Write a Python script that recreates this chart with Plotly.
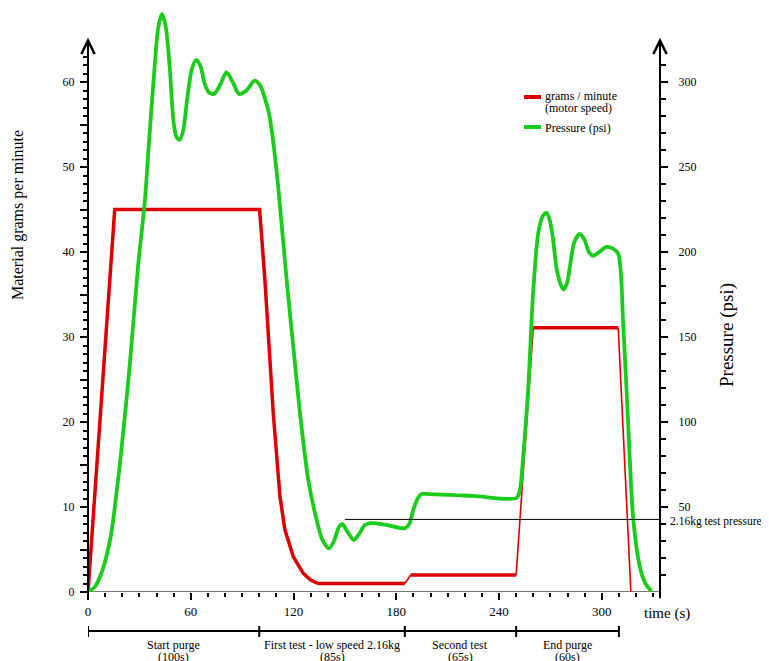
import plotly.graph_objects as go

# ---------------- data ----------------
# Material grams per minute (motor speed)
red_t = [0, 15.6, 100.2, 103.3, 108.2, 112.1, 115, 119.9, 125.7, 130, 134.5, 185, 188.4, 250, 260, 309.6, 317]
red_g = [0, 45, 45, 36.7, 21, 11.2, 7.3, 4.15, 2.2, 1.4, 1.0, 1.0, 2.0, 2.0, 31.1, 31.1, 0]
# segments drawn with a thin line (index of segment start)
red_thin_segments = [11, 13, 15]

# Pressure (psi)
green_t = [0, 4, 7.8, 10.5, 13.6, 16.5, 19.5, 24.3, 29.2, 33.1, 36, 38.9, 41, 43.2, 45.3, 47.7,
           49.8, 51.5, 53.5, 55.5, 57.8, 60.5, 63.2, 65.8, 68.1, 70.5, 73.6, 77.5, 80.8, 84.5, 88.2,
           92.5, 97.3, 100.5, 103.1, 105.8, 108, 110.9, 116, 119.9, 123.8, 128.6, 133.5, 136.8,
           140.7, 143.6, 146.6, 148.4, 151.5, 155.2, 158.5, 161.7, 165, 168.5, 175, 185, 187.6,
           189.9, 192.5, 194.8, 199.6, 225, 250.2, 252.2, 254.1, 257, 260, 262.9, 265.5, 267.8,
           269.8, 271.6, 274, 277.5, 279.5, 281.4, 284, 287.2, 290, 292.5, 295, 298.5, 302.8,
           306.5, 309.6, 312.5, 315.4, 318.3, 322.2, 325.5, 329]
green_p = [0, 3, 11, 20, 34.5, 57, 83.5, 132.5, 191.4, 229, 270, 309, 332, 340, 333, 309,
           278, 268, 266, 271, 289, 307, 313, 309, 299, 294, 293, 299, 305.7, 300, 293,
           295, 300.8, 298, 291, 281, 266, 240, 183.5, 144, 105, 66, 42.4, 31,
           25.7, 30, 38.4, 40, 35.5, 30.6, 34.5, 39.4, 40.5, 40.4, 39.3, 37.5, 40,
           48.2, 55, 57.6, 57.6, 56.5, 55.3, 60, 79.6, 118.8, 177.6, 211, 221, 223,
           218, 207, 188, 178, 181, 191.4, 206, 210.6, 207, 200, 197.8, 200, 203,
           202, 199, 158, 99, 44, 15, 5, 0.5]

test_pressure = 42.7
test_pressure_start = 150

x_major = [0, 60, 120, 180, 240, 300]
x_minor = [v for v in range(10, 331, 10) if v % 60 != 0]
yl_major = list(range(0, 61, 5))
yl_text = [str(v) if v % 10 == 0 else "" for v in yl_major]
yl_minor = [v for v in range(1, 64) if v % 5 != 0]
yr_major = [50, 100, 150, 200, 250, 300]
yr_minor = [v for v in range(10, 311, 10) if v % 50 != 0]

phases = ["Start purge", "First test - low speed 2.16kg", "Second test", "End purge"]
phase_dur = ["(100s)", "(85s)", "(65s)", "(60s)"]
phase_edges = [0, 100, 185, 250, 310]

RED = "#dd0000"
GREEN = "#1ccc1c"
FONT = "Liberation Serif"

# ---------------- geometry helpers (page pixels; page has an 8px body margin) ----------------
OFF = 8
W, H = 769 - OFF, 661 - OFF
PLOT_L, PLOT_R, PLOT_T, PLOT_B = 88, 660, 8, 592   # page coords
L = PLOT_L - OFF
R = W - (PLOT_R - OFF)
T = PLOT_T - OFF
B = H - (PLOT_B - OFF)
PW, PH = PLOT_R - PLOT_L, PLOT_B - PLOT_T
XMAX = 334.0
YMAX = PH / 8.5


def px(x):
    return (x - PLOT_L) / PW


def py(y):
    return (PLOT_B - y) / PH


fig = go.Figure()

# red thick / thin
thick_x, thick_y, thin_x, thin_y = [], [], [], []
for i in range(len(red_t) - 1):
    if i in red_thin_segments:
        thin_x += [red_t[i], red_t[i + 1], None]
        thin_y += [red_g[i], red_g[i + 1], None]
        thick_x.append(None)
        thick_y.append(None)
    else:
        if not thick_x or thick_x[-1] is None or thick_x[-1] != red_t[i]:
            thick_x.append(red_t[i])
            thick_y.append(red_g[i])
        thick_x.append(red_t[i + 1])
        thick_y.append(red_g[i + 1])

fig.add_trace(go.Scatter(x=thin_x, y=thin_y, mode="lines", line=dict(color=RED, width=1.6),
                         showlegend=False, hoverinfo="skip"))
fig.add_trace(go.Scatter(x=thick_x, y=thick_y, mode="lines", line=dict(color=RED, width=3.5),
                         showlegend=False, name="grams / minute"))
fig.add_trace(go.Scatter(x=green_t, y=green_p, mode="lines", yaxis="y2",
                         line=dict(color=GREEN, width=3.8, shape="spline", smoothing=0.8),
                         showlegend=False, name="Pressure (psi)"))

tickfont = dict(family=FONT, size=12, color="black")
fig.update_layout(
    width=W, height=H,
    margin=dict(l=L, r=R, t=T, b=B, autoexpand=False),
    paper_bgcolor="white", plot_bgcolor="white",
    xaxis=dict(range=[0, XMAX], showgrid=False, zeroline=False, showline=False,
               tickmode="array", tickvals=x_major, ticks="outside", ticklen=7, tickwidth=2,
               tickcolor="black", tickfont=dict(family=FONT, size=13, color="black"),
               minor=dict(tickmode="array", tickvals=x_minor, ticks="outside", ticklen=4,
                          tickwidth=2, tickcolor="black")),
    yaxis=dict(range=[0, YMAX], showgrid=False, zeroline=False, showline=False,
               tickmode="array", tickvals=yl_major, ticktext=yl_text, ticks="outside",
               ticklen=7, tickwidth=2, tickcolor="black", tickfont=tickfont, ticklabelstandoff=3,
               minor=dict(tickmode="array", tickvals=yl_minor, ticks="outside", ticklen=4,
                          tickwidth=2, tickcolor="black")),
    yaxis2=dict(range=[0, YMAX * 5], overlaying="y", side="right", anchor="x",
                showgrid=False, zeroline=False, showline=False,
                tickmode="array", tickvals=yr_major, ticks="outside", ticklen=7, tickwidth=2,
                tickcolor="black", tickfont=tickfont, ticklabelstandoff=8,
                minor=dict(tickmode="array", tickvals=yr_minor, ticks="outside", ticklen=5,
                           tickwidth=2, tickcolor="black")),
    showlegend=False,
)

shapes = []
annotations = []

# x axis line (grey)
shapes.append(dict(type="line", xref="x", yref="y", x0=0, x1=XMAX, y0=0, y1=0,
                   line=dict(color="#777777", width=2), layer="below"))
# vertical axes with arrows
for xv in [0, XMAX]:
    annotations.append(dict(x=xv, y=65.2, ax=xv, ay=-0.9, xref="x", yref="y", axref="x", ayref="y",
                            text="", showarrow=True, arrowhead=5, arrowsize=1.3, arrowwidth=2,
                            arrowcolor="black", standoff=0, startstandoff=0))

# test pressure line
shapes.append(dict(type="line", xref="x", yref="y2", x0=test_pressure_start, x1=XMAX,
                   y0=test_pressure, y1=test_pressure, line=dict(color="black", width=1)))
annotations.append(dict(x=px(668), y=py(521), xref="paper", yref="paper", text="2.16kg test pressure",
                        showarrow=False, xanchor="left", yanchor="middle", xshift=0,
                        font=dict(family=FONT, size=11.5, color="black")))

# phase bar
ybar = py(631)
shapes.append(dict(type="line", xref="x", yref="paper", x0=phase_edges[0], x1=phase_edges[-1],
                   y0=ybar, y1=ybar, line=dict(color="black", width=2)))
for e in phase_edges:
    shapes.append(dict(type="line", xref="x", yref="paper", x0=e, x1=e, y0=py(626), y1=py(637),
                       line=dict(color="black", width=2)))
for i, (name, dur) in enumerate(zip(phases, phase_dur)):
    xc = (phase_edges[i] + phase_edges[i + 1]) / 2
    annotations.append(dict(x=xc, y=py(645), xref="x", yref="paper", text=name, showarrow=False,
                            xanchor="center", yanchor="middle",
                            font=dict(family=FONT, size=12, color="black")))
    annotations.append(dict(x=xc, y=py(657), xref="x", yref="paper", text=dur, showarrow=False,
                            xanchor="center", yanchor="middle",
                            font=dict(family=FONT, size=12, color="black")))

# axis titles
annotations.append(dict(x=px(642), y=py(613), xref="paper", yref="paper", text="time (s)",
                        showarrow=False, xanchor="left", yanchor="middle",
                        font=dict(family=FONT, size=15, color="black")))
annotations.append(dict(x=px(18), y=py(215), xref="paper", yref="paper", text="Material grams per minute",
                        showarrow=False, xanchor="center", yanchor="middle", textangle=-90,
                        font=dict(family=FONT, size=16, color="black")))
annotations.append(dict(x=px(727), y=py(335), xref="paper", yref="paper", text="Pressure (psi)",
                        showarrow=False, xanchor="center", yanchor="middle", textangle=-90,
                        font=dict(family=FONT, size=19, color="black")))

# manual legend
shapes.append(dict(type="line", xref="paper", yref="paper", x0=px(524), x1=px(541), y0=py(97), y1=py(97),
                   line=dict(color=RED, width=4)))
shapes.append(dict(type="line", xref="paper", yref="paper", x0=px(524), x1=px(541), y0=py(127), y1=py(127),
                   line=dict(color=GREEN, width=4)))
for txt, yy in [("grams / minute", 96), ("(motor speed)", 108), ("Pressure (psi)", 128)]:
    annotations.append(dict(x=px(543), y=py(yy), xref="paper", yref="paper", text=txt, showarrow=False,
                            xanchor="left", yanchor="middle",
                            font=dict(family=FONT, size=12, color="black")))

fig.update_layout(shapes=shapes, annotations=annotations)
fig.write_html("out.html")
